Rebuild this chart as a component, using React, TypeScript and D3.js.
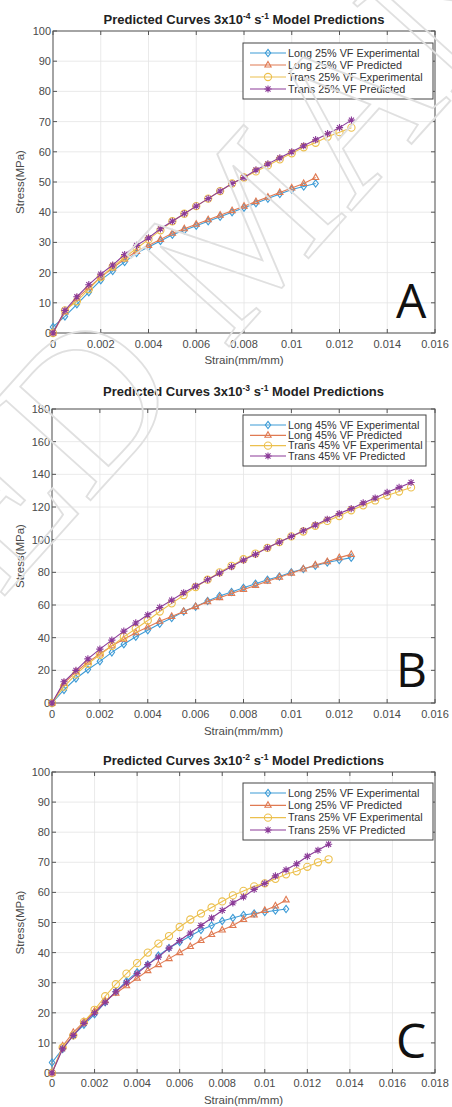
import * as d3 from 'd3';

// strain points (mm/mm), one marker every 0.0005
const strainTo011 = [0, 0.0005, 0.001, 0.0015, 0.002, 0.0025, 0.003, 0.0035, 0.004, 0.0045, 0.005, 0.0055, 0.006, 0.0065, 0.007, 0.0075, 0.008, 0.0085, 0.009, 0.0095, 0.01, 0.0105, 0.011];
const strainTo0125 = [0, 0.0005, 0.001, 0.0015, 0.002, 0.0025, 0.003, 0.0035, 0.004, 0.0045, 0.005, 0.0055, 0.006, 0.0065, 0.007, 0.0075, 0.008, 0.0085, 0.009, 0.0095, 0.01, 0.0105, 0.011, 0.0115, 0.012, 0.0125];
const strainTo013 = [0, 0.0005, 0.001, 0.0015, 0.002, 0.0025, 0.003, 0.0035, 0.004, 0.0045, 0.005, 0.0055, 0.006, 0.0065, 0.007, 0.0075, 0.008, 0.0085, 0.009, 0.0095, 0.01, 0.0105, 0.011, 0.0115, 0.012, 0.0125, 0.013];
const strainTo015 = [0, 0.0005, 0.001, 0.0015, 0.002, 0.0025, 0.003, 0.0035, 0.004, 0.0045, 0.005, 0.0055, 0.006, 0.0065, 0.007, 0.0075, 0.008, 0.0085, 0.009, 0.0095, 0.01, 0.0105, 0.011, 0.0115, 0.012, 0.0125, 0.013, 0.0135, 0.014, 0.0145, 0.015];

// panel A, 3x10^-4 s^-1, 25% VF
const longExpA = [2, 5.5, 9.5, 13.5, 17.5, 20.5, 23.5, 26.5, 28.5, 30.5, 32.5, 34, 35.5, 37, 38.5, 40, 41.5, 43, 44.5, 46, 47.5, 48.5, 49.5];
const longPredA = [0, 7, 11.5, 15, 18.5, 21.5, 24.5, 27, 29, 31, 33, 34.5, 36, 37.5, 39, 40.5, 42, 43.5, 45, 46.5, 48, 49.5, 51.5];
const transExpA = [0, 7.5, 10.5, 14.5, 18.5, 22, 25, 28, 31, 34, 37, 39.5, 42, 44.5, 47, 49.5, 51.5, 53.5, 55.5, 57.5, 59.5, 61.5, 63, 65, 66.5, 68];
const transPredA = [0, 7.5, 12, 16, 19.5, 22.5, 26, 29, 31.5, 34.5, 37, 39.5, 42, 44.5, 47, 49.5, 51.5, 54, 56, 58, 60, 62, 64, 66, 68, 70.5];

// panel B, 3x10^-3 s^-1, 45% VF
const longExpB = [0, 8, 15, 20.5, 25.5, 31, 36, 40.5, 44.5, 48.5, 52, 56, 59, 62.5, 65.5, 68, 70.5, 73, 75.5, 77.5, 80, 82, 84, 86, 87.5, 89];
const longPredB = [0, 12, 19, 25, 30, 35, 39, 43, 46.5, 50, 53, 56, 59, 62, 64.5, 67, 69.5, 72, 74.5, 77, 79.5, 82, 84.5, 86.5, 89, 91];
const transExpB = [0, 10, 17.5, 24, 29.5, 35, 40.5, 45.5, 50.5, 56, 61, 66, 71, 75.5, 80, 84, 88, 91.5, 95, 98.5, 102, 105, 108.5, 111.5, 114.5, 118, 121, 124, 127, 129.5, 132];
const transPredB = [0, 13, 20, 27, 33, 38.5, 44, 49, 54, 58.5, 63, 67.5, 71.5, 75.5, 79.5, 83.5, 87.5, 91, 95, 98.5, 102, 105.5, 109, 112.5, 116, 119, 122.5, 125.5, 129, 132, 135];

// panel C, 3x10^-2 s^-1, 25% VF
const longExpC = [3.5, 8, 12.5, 16, 19.5, 23.5, 27, 30.5, 33.5, 36, 39, 41.5, 43.5, 45.5, 47.5, 49, 50.5, 51.5, 52.5, 53, 53.5, 54, 54.5];
const longPredC = [0, 9, 13.5, 17, 20.5, 24, 26.5, 29, 31.5, 34, 36, 38, 40, 42, 44, 46, 47.5, 49, 51, 52.5, 54, 55.5, 57.5];
const transExpC = [0, 8.5, 12.5, 17, 21, 25.5, 29.5, 33, 36.5, 40, 43, 45.5, 48.5, 51, 53, 55, 57, 59, 60.5, 62, 63, 64.5, 66, 67, 68.5, 70, 71];
const transPredC = [0, 8, 12.5, 16.5, 20, 23.5, 27, 30, 33, 36, 38.5, 41.5, 44, 46.5, 49, 51.5, 54, 56.5, 58.5, 61, 63, 65.5, 67.5, 69.5, 72, 74, 76];

const xTicks16 = [0, 0.002, 0.004, 0.006, 0.008, 0.01, 0.012, 0.014, 0.016];
const xTicks18 = [0, 0.002, 0.004, 0.006, 0.008, 0.01, 0.012, 0.014, 0.016, 0.018];
const yTicks100 = [0, 10, 20, 30, 40, 50, 60, 70, 80, 90, 100];
const yTicks180 = [0, 20, 40, 60, 80, 100, 120, 140, 160, 180];

const legend25 = ['Long 25% VF Experimental', 'Long 25% VF Predicted', 'Trans 25% VF Experimental', 'Trans 25% VF Predicted'];
const legend45 = ['Long 45% VF Experimental', 'Long 45% VF Predicted', 'Trans 45% VF Experimental', 'Trans 45% VF Predicted'];

const colors = ['#3d9bd6', '#e07a52', '#ecc04e', '#8b3b98'];
const shapes = ['diamond', 'triangle', 'circle', 'asterisk'];
const FONT = '"Liberation Sans", Arial, sans-serif';

const panels = [
  {
    exp: '-4', letter: 'A', titleY: 24, xLabelY: 364, tickY: 348,
    left: 53, right: 435, top: 31, bottom: 333,
    xTicks: xTicks16, yTicks: yTicks100,
    legend: legend25, legendBox: [243, 43, 190, 56],
    letterPos: [396, 318],
    series: [
      { x: strainTo011, y: longExpA },
      { x: strainTo011, y: longPredA },
      { x: strainTo0125, y: transExpA },
      { x: strainTo0125, y: transPredA },
    ],
  },
  {
    exp: '-3', letter: 'B', titleY: 396, xLabelY: 735, tickY: 718,
    left: 52, right: 435, top: 409, bottom: 703,
    xTicks: xTicks16, yTicks: yTicks180,
    legend: legend45, legendBox: [243, 415, 183, 51],
    letterPos: [396, 687],
    series: [
      { x: strainTo0125, y: longExpB },
      { x: strainTo0125, y: longPredB },
      { x: strainTo015, y: transExpB },
      { x: strainTo015, y: transPredB },
    ],
  },
  {
    exp: '-2', letter: 'C', titleY: 765, xLabelY: 1104, tickY: 1087,
    left: 52, right: 435, top: 772, bottom: 1073,
    xTicks: xTicks18, yTicks: yTicks100,
    legend: legend25, legendBox: [243, 783, 190, 57],
    letterPos: [396, 1058],
    series: [
      { x: strainTo011, y: longExpC },
      { x: strainTo011, y: longPredC },
      { x: strainTo013, y: transExpC },
      { x: strainTo013, y: transPredC },
    ],
  },
];

function markerPath(shape: string, r: number) {
  if (shape === 'diamond') return `M0,${-r}L${r * 0.75},0L0,${r}L${-r * 0.75},0Z`;
  if (shape === 'triangle') return `M0,${-r}L${r * 0.87},${r * 0.55}L${-r * 0.87},${r * 0.55}Z`;
  if (shape === 'circle') return d3.symbol(d3.symbolCircle, Math.PI * r * r)() as string;
  const k = r * 0.7;
  return `M${-r},0L${r},0M0,${-r}L0,${r}M${-k},${-k}L${k},${k}M${-k},${k}L${k},${-k}`;
}

function Panel({ p }: { p: (typeof panels)[number] }) {
  const x = d3.scaleLinear().domain([0, p.xTicks[p.xTicks.length - 1]]).range([p.left, p.right]);
  const y = d3.scaleLinear().domain([0, p.yTicks[p.yTicks.length - 1]]).range([p.bottom, p.top]);
  const fmt = (v: number) => (v === 0 ? '0' : String(+v.toFixed(3)));
  const [lx, ly, lw, lh] = p.legendBox;
  const rowGap = (lh - 20) / 3;
  const mid = (p.left + p.right) / 2;

  return (
    <g fontFamily={FONT}>
      <rect x={p.left} y={p.top} width={p.right - p.left} height={p.bottom - p.top} fill="#fff" />
      {p.xTicks.map((t) => (
        <line key={'gx' + t} x1={x(t)} x2={x(t)} y1={p.top} y2={p.bottom} stroke="#e4e4e4" strokeWidth={0.8} />
      ))}
      {p.yTicks.map((t) => (
        <line key={'gy' + t} x1={p.left} x2={p.right} y1={y(t)} y2={y(t)} stroke="#e4e4e4" strokeWidth={0.8} />
      ))}
      {p.xTicks.map((t) => (
        <g key={'tx' + t}>
          <line x1={x(t)} x2={x(t)} y1={p.bottom} y2={p.bottom - 4} stroke="#555" />
          <line x1={x(t)} x2={x(t)} y1={p.top} y2={p.top + 4} stroke="#555" />
          <text x={x(t)} y={p.tickY} fontSize={11} fill="#4a4a4a" textAnchor="middle">{fmt(t)}</text>
        </g>
      ))}
      {p.yTicks.map((t) => (
        <g key={'ty' + t}>
          <line x1={p.left} x2={p.left + 4} y1={y(t)} y2={y(t)} stroke="#555" />
          <line x1={p.right} x2={p.right - 4} y1={y(t)} y2={y(t)} stroke="#555" />
          <text x={p.left - 2} y={y(t) + 4} fontSize={11} fill="#4a4a4a" textAnchor="end">{t}</text>
        </g>
      ))}
      <rect x={p.left} y={p.top} width={p.right - p.left} height={p.bottom - p.top} fill="none" stroke="#555" strokeWidth={1} />

      {p.series.map((s, i) => {
        const pts = s.x.map((v, j) => [x(v), y(s.y[j])] as [number, number]);
        const path = d3.line()(pts) as string;
        return (
          <g key={'s' + i} stroke={colors[i]} fill="none" strokeWidth={1.1}>
            <path d={path} />
            {pts.map(([px, py], j) => (
              <path key={j} d={markerPath(shapes[i], 3.6)} transform={`translate(${px},${py})`} strokeWidth={1.1} />
            ))}
          </g>
        );
      })}

      <text x={mid} y={p.titleY} fontSize={13} fontWeight="bold" fill="#222" textAnchor="middle">
        Predicted Curves 3x10<tspan fontSize={8.5} dy={-5}>{p.exp}</tspan>
        <tspan dy={5}> s</tspan>
        <tspan fontSize={8.5} dy={-5}>-1</tspan>
        <tspan dy={5}> Model Predictions</tspan>
      </text>
      <text x={mid} y={p.xLabelY} fontSize={11.5} fill="#4a4a4a" textAnchor="middle">Strain(mm/mm)</text>
      <text transform={`translate(24,${(p.top + p.bottom) / 2}) rotate(-90)`} fontSize={11.5} fill="#4a4a4a" textAnchor="middle">Stress(MPa)</text>

      <rect x={lx} y={ly} width={lw} height={lh} fill="#fff" stroke="#444" strokeWidth={1} />
      {p.legend.map((name, i) => {
        const ry = ly + 10 + i * rowGap;
        return (
          <g key={name}>
            <line x1={lx + 7} x2={lx + 43} y1={ry} y2={ry} stroke={colors[i]} strokeWidth={1.1} />
            <path d={markerPath(shapes[i], 3.6)} transform={`translate(${lx + 25},${ry})`} stroke={colors[i]} fill="none" strokeWidth={1.1} />
            <text x={lx + 45} y={ry + 3.8} fontSize={10.8} fill="#333">{name}</text>
          </g>
        );
      })}

      <text x={p.letterPos[0]} y={p.letterPos[1]} fontSize={48} fontFamily='"Open Sans", "Liberation Sans", sans-serif' fill="#111">{p.letter}</text>
    </g>
  );
}

export default function App() {
  return (
    <div style={{ position: 'absolute', left: 0, top: 0 }}>
      <svg width={452} height={1107} style={{ display: 'block', background: '#fff' }}>
        {panels.map((p) => (
          <Panel key={p.letter} p={p} />
        ))}
        <g fontFamily='"Liberation Serif", "DejaVu Serif", serif' fill="none" stroke="#e0e0e0" strokeWidth={1.8}>
          <text transform="translate(188,392) rotate(-48)" fontSize={210} textAnchor="end">ACCEPTED</text>
          <text transform="translate(225,351) rotate(-48)" fontSize={210}>MANUSCRIPT</text>
        </g>
      </svg>
    </div>
  );
}
